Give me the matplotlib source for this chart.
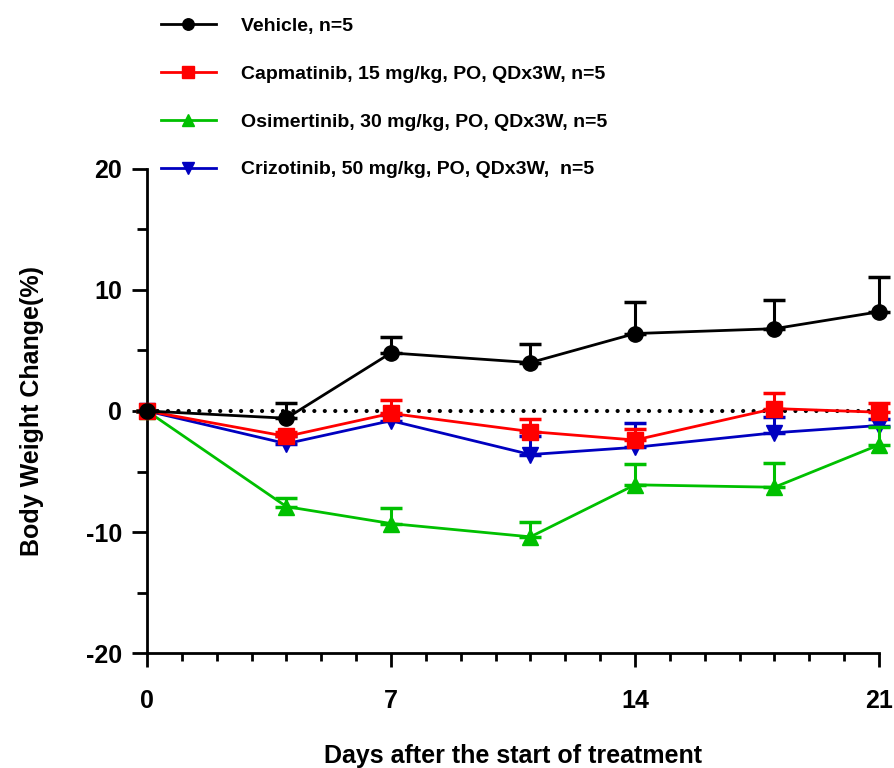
import matplotlib
matplotlib.use('Agg')
import matplotlib.pyplot as plt
from matplotlib.ticker import MultipleLocator
import numpy as np

# days and group means / SEM
days = [0, 4, 7, 11, 14, 18, 21]

vehicle = [0, -0.6, 4.8, 4.0, 6.4, 6.8, 8.2]
vehicle_sem = [0, 1.3, 1.3, 1.5, 2.6, 2.4, 2.9]

capmatinib = [0, -2.1, -0.2, -1.7, -2.4, 0.2, -0.1]
capmatinib_sem = [0, 0.4, 1.1, 1.0, 0.9, 1.3, 0.8]

osimertinib = [0, -7.9, -9.3, -10.4, -6.1, -6.3, -2.8]
osimertinib_sem = [0, 0.7, 1.3, 1.2, 1.7, 2.0, 1.5]

crizotinib = [0, -2.7, -0.8, -3.6, -3.0, -1.8, -1.2]
crizotinib_sem = [0, 0.6, 0.5, 1.5, 2.0, 1.3, 0.5]

labels = ['Vehicle, n=5',
          'Capmatinib, 15 mg/kg, PO, QDx3W, n=5',
          'Osimertinib, 30 mg/kg, PO, QDx3W, n=5',
          'Crizotinib, 50 mg/kg, PO, QDx3W,  n=5']

plt.rcParams['font.family'] = ['Liberation Sans', 'DejaVu Sans']
plt.rcParams['font.weight'] = 'bold'
plt.rcParams['axes.unicode_minus'] = False

fig = plt.figure(figsize=(8.94, 7.68), dpi=100)
ax = fig.add_axes([0.1644, 0.1497, 0.8188, 0.6303])

# draw order: blue, green, red, black (black on top)
series = [
    (crizotinib, crizotinib_sem, '#0000c0', 'v', labels[3], 2),
    (osimertinib, osimertinib_sem, '#00c000', '^', labels[2], 3),
    (capmatinib, capmatinib_sem, '#ff0000', 's', labels[1], 4),
    (vehicle, vehicle_sem, 'black', 'o', labels[0], 5),
]

handles = {}
for vals, sem, col, mk, lab, z in series:
    vals = np.array(vals)
    sem = np.array(sem)
    ax.errorbar(days, vals, yerr=[np.zeros_like(sem), sem], fmt='none',
                ecolor=col, elinewidth=2.2, capsize=8, capthick=2.5,
                zorder=z, clip_on=False)
    ms = 11 if mk in ('o', 's') else 12
    h, = ax.plot(days, vals, color=col, marker=mk, markersize=ms, lw=2,
                 zorder=z + 0.5, clip_on=False, label=lab)
    handles[lab] = h

# dotted baseline at 0
ax.plot([0, 21], [0, 0], color='black', lw=3, linestyle=(0, (0.01, 2.5)),
        dash_capstyle='round', zorder=4.2, clip_on=False)

ax.set_xlim(0, 21)
ax.set_ylim(-20, 20)
ax.xaxis.set_major_locator(MultipleLocator(7))
ax.xaxis.set_minor_locator(MultipleLocator(1))
ax.yaxis.set_major_locator(MultipleLocator(10))
ax.yaxis.set_minor_locator(MultipleLocator(5))

for s in ['top', 'right']:
    ax.spines[s].set_visible(False)
for s in ['left', 'bottom']:
    ax.spines[s].set_linewidth(2)

ax.tick_params(axis='both', which='major', direction='out', width=2,
               labelsize=18)
ax.tick_params(axis='x', which='major', length=10, pad=16)
ax.tick_params(axis='x', which='minor', length=6, width=2)
ax.tick_params(axis='y', which='major', length=11, pad=7)
ax.tick_params(axis='y', which='minor', length=7, width=2)
for t in ax.get_xticklabels() + ax.get_yticklabels():
    t.set_fontweight('bold')

ax.set_xlabel('Days after the start of treatment', fontsize=18,
              fontweight='bold', labelpad=22)
ax.set_ylabel('Body Weight Change(%)', fontsize=18, fontweight='bold',
              labelpad=30)

leg = ax.legend([handles[l] for l in labels], labels,
                loc='upper left', bbox_to_anchor=(0.165, 0.995),
                bbox_transform=fig.transFigure, frameon=False,
                fontsize=14, handlelength=2.8, handletextpad=1.3,
                labelspacing=1.55, markerscale=0.75, borderaxespad=0.3)
for t in leg.get_texts():
    t.set_fontweight('bold')

fig.savefig('out.png', dpi=100)
